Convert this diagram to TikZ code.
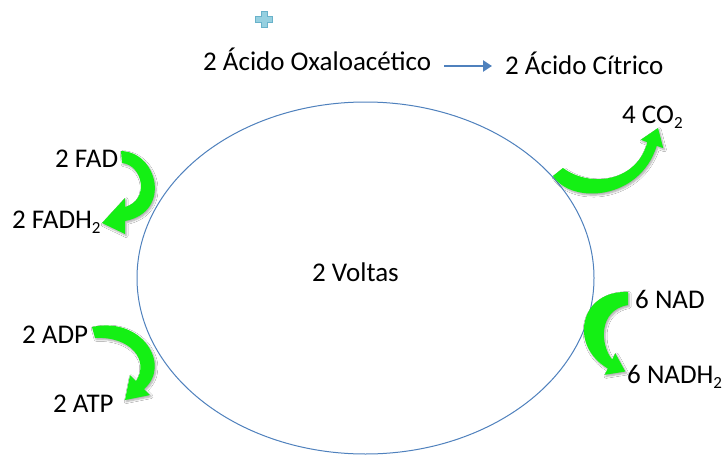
\documentclass[tikz,border=0pt]{standalone}
\usepackage{fontspec}
\setmainfont{Carlito}
\usetikzlibrary{calc,arrows.meta,shadows.blur}
\definecolor{ellblue}{RGB}{79,129,189}
\definecolor{garrow}{RGB}{20,240,20}
\definecolor{plusfill}{RGB}{150,208,224}
\definecolor{plusline}{RGB}{105,178,202}
\newcommand{\subtwo}{\raisebox{-5pt}{\fontsize{17}{17}\selectfont 2}}
\tikzset{
  lbl/.style={anchor=base west, inner sep=0pt, font=\fontsize{27}{32}\selectfont},
  greenarrow/.style={fill=garrow, blur shadow={shadow xshift=1.2pt, shadow yshift=-1.6pt, shadow blur steps=6, shadow opacity=35}},
}
\begin{document}
\begin{tikzpicture}[x=1pt,y=-1pt]
\useasboundingbox (0,0) rectangle (725,455);
\fill[white] (0,0) rectangle (725,455);
% cycle
\draw[ellblue, line width=1pt] (365.5,278) ellipse [x radius=228.5, y radius=176];
% texts
\node[lbl] (oxa) at (203,70) {2 Ácido Oxaloacético};
\node[lbl] (cit) at (505,74) {2 Ácido Cítrico};
\node[lbl] (co2) at (622,123) {4 CO\subtwo};
\node[lbl] (fad) at (55,167) {2 FAD};
\node[lbl] (fadh) at (12,228) {2 FADH\subtwo};
\node[lbl] (voltas) at (312,281) {2 Voltas};
\node[lbl] (adp) at (22,343) {2 ADP};
\node[lbl] (atp) at (53,412) {2 ATP};
\node[lbl] (nad) at (635,308) {6 NAD};
\node[lbl] (nadh) at (627,383) {6 NADH\subtwo};
% plus sign
\draw[plusline, fill=plusfill, line width=0.7pt]
  (261,11)--(267,11)--(267,16)--(272.5,16)--(272.5,22)--(267,22)--(267,27)--(261,27)--(261,22)--(255.5,22)--(255.5,16)--(261,16)--cycle;
% blue arrow
\draw[ellblue, line width=2.4pt, -{Triangle[length=9pt,width=11pt]}]
  ($(oxa.base east)+(13,-4)$) -- ($(cit.base west)+(-13,-8)$);
% green arrows
\fill[greenarrow] (121,151) .. controls (158,152) and (172,212) .. (125,221) -- (125,234) -- (102,223) -- (125,198) -- (125,207) .. controls (150,200) and (143,165) .. (122,163) -- cycle;
\fill[greenarrow] (92,327) .. controls (142,316) and (172,365) .. (144,389) -- (150,395) -- (125,400) -- (130,375) -- (136,381) .. controls (150,360) and (130,336) .. (95,338) -- cycle;
\fill[greenarrow] (553,176) .. controls (572,205) and (640,200) .. (656.7,145.8) -- (663.3,148.2) -- (658,128) -- (640.7,139.8) -- (647.3,142.2) .. controls (637,182) and (590,188) .. (563,168) -- cycle;
\fill[greenarrow] (628,292) .. controls (580,290) and (568,345) .. (607.8,368.5) -- (604.7,374.8) -- (625.3,371.5) -- (615.3,353.2) -- (612.2,359.5) .. controls (600,345) and (598,310) .. (628,305) -- cycle;
\end{tikzpicture}
\end{document}
